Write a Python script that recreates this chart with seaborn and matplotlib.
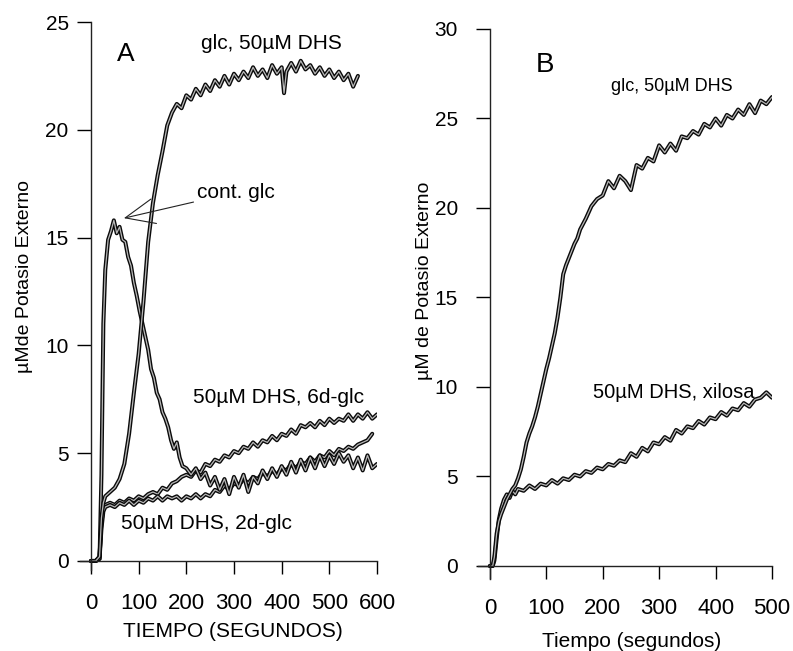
import matplotlib
matplotlib.use("Agg")
import matplotlib.pyplot as plt
import matplotlib.patheffects as pe
import seaborn as sns
import numpy as np

# ---------------- Panel A data ----------------
t_glc_dhs_A = [0, 10, 18, 22, 26, 30, 40, 50, 60, 70, 80, 90, 100, 110, 120, 130, 140,
               150, 160, 170, 180, 190, 200, 210, 220, 230, 240, 250, 260, 270, 280, 290,
               300, 310, 320, 330, 340, 350, 360, 370, 380, 390, 400, 405, 410, 420, 430,
               440, 450, 460, 470, 480, 490, 500, 510, 520, 530, 540, 550, 560]
v_glc_dhs_A = [0, 0, 0.2, 2.0, 2.7, 3.0, 3.2, 3.4, 3.8, 4.5, 5.9, 7.8, 9.6, 12.0, 14.8, 16.6, 17.9,
               19.0, 20.2, 20.8, 21.2, 21.0, 21.6, 21.4, 21.9, 21.6, 22.1, 21.8, 22.3, 22.0, 22.5, 22.1,
               22.6, 22.3, 22.7, 22.4, 22.9, 22.5, 22.8, 22.4, 23.0, 22.6, 22.9, 21.7, 22.7, 23.1, 22.7,
               23.2, 22.8, 23.0, 22.6, 22.9, 22.5, 22.8, 22.4, 22.7, 22.3, 22.6, 22.0, 22.5]

t_cont_A = [0, 10, 18, 22, 26, 30, 36, 42, 48, 54, 60, 66, 72, 78, 84, 90, 96, 102, 108, 114,
            120, 126, 132, 138, 144, 150, 156, 162, 168, 174, 180, 186, 192, 200, 210, 220, 230,
            240, 250, 260, 270, 280, 290, 300, 310, 320, 330, 340, 350, 360, 370, 380, 390, 400,
            410, 420, 430, 440, 450, 460, 470, 480, 490, 500, 510, 520, 530, 540, 550, 560, 570,
            580, 590, 600]
v_cont_A = [0, 0, 0.1, 4.0, 11.0, 13.5, 14.9, 15.3, 15.8, 15.2, 15.5, 14.9, 14.8, 14.1, 13.7, 12.9,
            12.3, 11.6, 11.0, 10.4, 9.8, 8.9, 8.5, 7.8, 7.5, 6.9, 6.6, 6.2, 5.6, 5.2, 5.5, 4.8, 4.4,
            4.3, 4.0, 4.3, 3.8, 4.1, 3.5, 3.9, 3.3, 3.8, 3.1, 3.9, 3.4, 4.0, 3.2, 3.9, 3.6, 4.2, 3.8,
            4.3, 3.9, 4.4, 4.0, 4.6, 4.1, 4.7, 4.2, 4.8, 4.3, 4.9, 4.4, 4.9, 4.5, 5.0, 4.6, 4.9, 4.3,
            4.8, 4.2, 4.9, 4.3, 4.5]

t_6d_A = [0, 10, 18, 22, 26, 30, 40, 50, 60, 70, 80, 90, 100, 110, 120, 130, 140, 150, 160, 170,
          180, 190, 200, 210, 220, 230, 240, 250, 260, 270, 280, 290, 300, 310, 320, 330, 340, 350,
          360, 370, 380, 390, 400, 410, 420, 430, 440, 450, 460, 470, 480, 490, 500, 510, 520, 530,
          540, 550, 560, 570, 580, 590, 600]
v_6d_A = [0, 0, 0.2, 1.8, 2.4, 2.6, 2.7, 2.6, 2.8, 2.7, 2.9, 2.8, 3.0, 2.9, 3.1, 3.2, 3.1, 3.4, 3.3,
          3.6, 3.7, 3.9, 4.0, 3.9, 4.2, 4.1, 4.5, 4.4, 4.7, 4.6, 4.9, 4.8, 5.1, 5.0, 5.3, 5.2, 5.5,
          5.3, 5.6, 5.5, 5.8, 5.6, 5.9, 5.8, 6.1, 5.9, 6.3, 6.2, 6.4, 6.2, 6.5, 6.3, 6.6, 6.4, 6.6,
          6.5, 6.8, 6.5, 6.8, 6.6, 6.9, 6.6, 6.8]

t_2d_A = [0, 10, 18, 22, 26, 30, 40, 50, 60, 70, 80, 90, 100, 110, 120, 130, 140, 150, 160, 170,
          180, 190, 200, 210, 220, 230, 240, 250, 260, 270, 280, 290, 300, 310, 320, 330, 340, 350,
          360, 370, 380, 390, 400, 410, 420, 430, 440, 450, 460, 470, 480, 490, 500, 510, 520, 530,
          540, 550, 560, 570, 580, 590]
v_2d_A = [0, 0, 0.1, 1.5, 2.3, 2.5, 2.6, 2.5, 2.7, 2.6, 2.8, 2.6, 2.8, 2.7, 2.9, 2.8, 3.0, 2.8, 3.0,
          2.9, 3.0, 2.8, 3.0, 2.9, 3.1, 2.9, 3.1, 3.0, 3.3, 3.2, 3.5, 3.3, 3.6, 3.5, 3.8, 3.6, 3.9,
          3.8, 4.1, 3.9, 4.2, 4.0, 4.3, 4.2, 4.5, 4.3, 4.6, 4.5, 4.8, 4.6, 4.9, 4.8, 5.1, 4.9, 5.2,
          5.1, 5.3, 5.2, 5.4, 5.5, 5.6, 5.9]

# ---------------- Panel B data ----------------
t_glc_dhs_B = [0, 5, 8, 12, 16, 20, 25, 30, 35, 40, 45, 50, 55, 60, 65, 70, 75, 80, 85, 90, 95,
               100, 105, 110, 115, 120, 125, 130, 135, 140, 145, 150, 155, 160, 170, 180, 190,
               200, 210, 220, 230, 240, 250, 260, 270, 280, 290, 300, 310, 320, 330, 340, 350,
               360, 370, 380, 390, 400, 410, 420, 430, 440, 450, 460, 470, 480, 490, 500]
v_glc_dhs_B = [0, 0, 0.5, 1.8, 2.5, 2.9, 3.3, 3.7, 4.0, 4.3, 4.5, 4.9, 5.4, 6.1, 6.9, 7.4, 7.8,
               8.3, 8.9, 9.6, 10.3, 11.0, 11.6, 12.3, 13.0, 13.9, 15.0, 16.3, 16.8, 17.2, 17.6,
               18.0, 18.3, 18.8, 19.4, 20.1, 20.5, 20.7, 21.5, 21.1, 21.8, 21.5, 21.0, 22.4, 22.2,
               22.8, 22.6, 23.5, 23.1, 23.6, 23.2, 24.0, 23.9, 24.3, 24.1, 24.7, 24.5, 25.0, 24.6,
               25.2, 25.0, 25.5, 25.2, 25.8, 25.3, 26.0, 25.8, 26.2]

t_xil_B = [0, 5, 8, 12, 16, 20, 25, 30, 35, 40, 45, 50, 60, 70, 80, 90, 100, 110, 120, 130, 140,
           150, 160, 170, 180, 190, 200, 210, 220, 230, 240, 250, 260, 270, 280, 290, 300, 310,
           320, 330, 340, 350, 360, 370, 380, 390, 400, 410, 420, 430, 440, 450, 460, 470, 480,
           490, 500]
v_xil_B = [0, 0, 0.3, 1.5, 2.6, 3.2, 3.7, 4.0, 3.8, 4.2, 4.0, 4.3, 4.2, 4.5, 4.3, 4.6, 4.5, 4.8,
           4.6, 4.9, 4.8, 5.1, 5.0, 5.3, 5.2, 5.5, 5.4, 5.7, 5.6, 5.9, 5.8, 6.3, 6.1, 6.6, 6.4, 6.9,
           6.8, 7.2, 7.0, 7.6, 7.4, 7.8, 7.7, 8.1, 7.9, 8.3, 8.2, 8.6, 8.4, 8.8, 8.7, 9.1, 8.9, 9.3,
           9.4, 9.7, 9.4]

# tick labels
xticks_A = [0, 100, 200, 300, 400, 500, 600]
yticks_A = [0, 5, 10, 15, 20, 25]
xticks_B = [0, 100, 200, 300, 400, 500]
yticks_B = [0, 5, 10, 15, 20, 25, 30]

sns.set_style("ticks")
plt.rcParams["font.family"] = ["Liberation Sans", "DejaVu Sans"]
plt.rcParams["text.color"] = "black"
plt.rcParams["axes.labelcolor"] = "black"
plt.rcParams["xtick.color"] = "black"
plt.rcParams["ytick.color"] = "black"

fig = plt.figure(figsize=(7.93, 6.51), dpi=100)
axA = fig.add_axes([80 / 793, 1 - 569.6 / 651, 297 / 793, 547.6 / 651])
axB = fig.add_axes([478 / 793, 1 - 578.5 / 651, 294 / 793, 549.5 / 651])

effects = [pe.Stroke(linewidth=2.9, foreground="#0a0a0a"), pe.Normal()]


def draw(ax, t, v):
    sns.lineplot(x=t, y=v, ax=ax, color="#b8b8b8", lw=0.9, estimator=None, sort=False)
    ax.lines[-1].set_path_effects(effects)


for t, v in [(t_6d_A, v_6d_A), (t_2d_A, v_2d_A), (t_cont_A, v_cont_A), (t_glc_dhs_A, v_glc_dhs_A)]:
    draw(axA, t, v)
for t, v in [(t_xil_B, v_xil_B), (t_glc_dhs_B, v_glc_dhs_B)]:
    draw(axB, t, v)

for ax, xt, yt, xl, yl, ypad in [(axA, xticks_A, yticks_A, (-23, 600), (-0.4, 25), 6),
                                 (axB, xticks_B, yticks_B, (-21, 500), (-0.7, 30), 13)]:
    ax.set_xlim(*xl)
    ax.set_ylim(*yl)
    ax.set_xticks(xt)
    ax.set_yticks(yt)
    ax.spines["top"].set_visible(False)
    ax.spines["right"].set_visible(False)
    ax.spines["left"].set_position(("data", 0))
    ax.spines["bottom"].set_position(("data", 0))
    for s in ("left", "bottom"):
        ax.spines[s].set_linewidth(1.0)
        ax.spines[s].set_color("#222222")
    ax.tick_params(axis="y", direction="out", length=10, width=1.0, pad=ypad, labelsize=15)
    ax.tick_params(axis="x", direction="out", length=9, width=1.0, pad=14, labelsize=16)
    ax.patch.set_alpha(0)

axA.set_xlabel("TIEMPO (SEGUNDOS)", fontsize=15)
axA.set_ylabel("µMde Potasio Externo", fontsize=14)
axA.xaxis.set_label_coords(0.515, -0.096)
axA.yaxis.set_label_coords(-0.158, 0.536)

axB.set_xlabel("Tiempo (segundos)", fontsize=15)
axB.set_ylabel("µM de Potasio Externo", fontsize=14)
axB.xaxis.set_label_coords(0.524, -0.097)
axB.yaxis.set_label_coords(-0.153, 0.541)

# annotations panel A
axA.text(73, 23.5, "A", fontsize=19, ha="center", va="center")
axA.text(379, 24.0, "glc, 50µM DHS", fontsize=15, ha="center", va="center")
axA.annotate("cont. glc", xy=(69, 15.9), xytext=(222, 17.1), fontsize=15, ha="left", va="center",
             arrowprops=dict(arrowstyle="->,head_length=1.4,head_width=0.6", lw=0.8, color="#222222",
                             shrinkA=0, shrinkB=0))
axA.text(214, 7.6, "50µM DHS, 6d-glc", fontsize=15, ha="left", va="center")
axA.text(63, 1.76, "50µM DHS, 2d-glc", fontsize=15, ha="left", va="center")

# annotations panel B
axB.text(97.5, 28.0, "B", fontsize=20, ha="center", va="center")
axB.text(323, 26.8, "glc, 50µM DHS", fontsize=13, ha="center", va="center")
axB.text(183, 9.7, "50µM DHS, xilosa", fontsize=14.5, ha="left", va="center")

fig.savefig("out.png", dpi=100)
